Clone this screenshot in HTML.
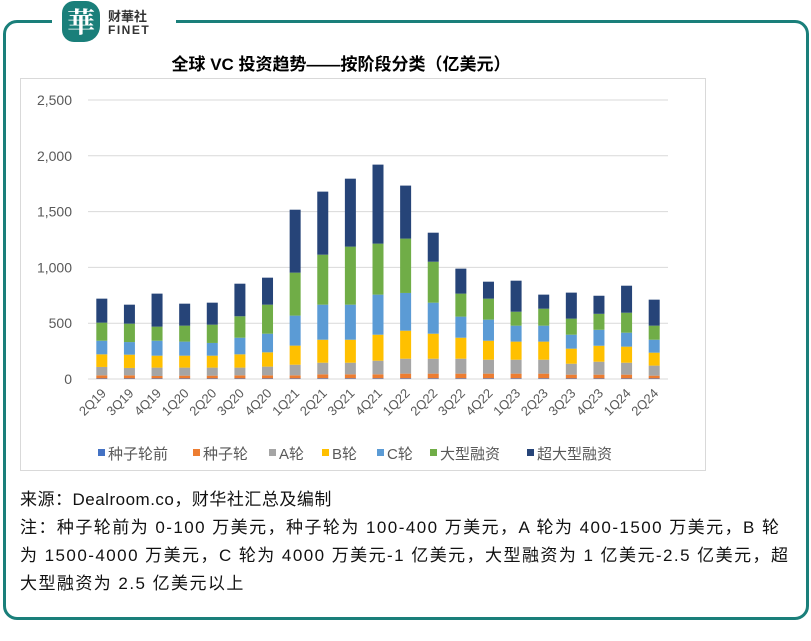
<!DOCTYPE html>
<html><head><meta charset="utf-8">
<style>
body{margin:0;width:811px;height:641px;background:#fff;position:relative;overflow:hidden;font-family:"Liberation Sans","Noto Sans CJK SC",sans-serif;}
.abs{position:absolute;}
.note{left:20px;font-size:17px;color:#111;white-space:nowrap;letter-spacing:1.45px;}
</style></head><body>
<div class="abs" style="left:3px;top:20px;width:800px;height:594px;border:3px solid #1a7f7a;border-radius:14px;"></div>
<div class="abs" style="left:52px;top:14px;width:124px;height:14px;background:#fff;"></div>
<div class="abs" style="left:62px;top:1px;width:38px;height:41px;background:#1a7f7a;border-radius:12px 14px 16px 12px;color:#fff;font-size:28px;font-family:'Noto Serif CJK SC',serif;text-align:center;line-height:40px;font-weight:bold;">華</div>
<div class="abs" style="left:108px;top:10px;font-size:13px;font-weight:bold;color:#333;line-height:13px;">财華社<br><span style="font-size:12px;letter-spacing:1.5px;">FINET</span></div>
<div class="abs" style="left:0;width:682px;top:50px;text-align:center;font-size:17px;font-weight:bold;color:#000;">全球 VC 投资趋势——按阶段分类（亿美元）</div>
<div class="abs" style="left:20px;top:78px;width:684px;height:391px;border:1px solid #d9d9d9;"></div>
<svg class="abs" style="left:0;top:0" width="811" height="641" id="chart"></svg>
<div class="abs note" style="top:485px;letter-spacing:0.5px;">来源：Dealroom.co，财华社汇总及编制</div>
<div class="abs note" style="top:513px;">注：种子轮前为 0-100 万美元，种子轮为 100-400 万美元，A 轮为 400-1500 万美元，B 轮</div>
<div class="abs note" style="top:541px;">为 1500-4000 万美元，C 轮为 4000 万美元-1 亿美元，大型融资为 1 亿美元-2.5 亿美元，超</div>
<div class="abs note" style="top:569px;">大型融资为 2.5 亿美元以上</div>
<script>
const categories=["2Q19","3Q19","4Q19","1Q20","2Q20","3Q20","4Q20","1Q21","2Q21","3Q21","4Q21","1Q22","2Q22","3Q22","4Q22","1Q23","2Q23","3Q23","4Q23","1Q24","2Q24"];
const seriesNames=["种子轮前","种子轮","A轮","B轮","C轮","大型融资","超大型融资"];
const preSeed=[5,5,5,5,5,5,5,5,6,6,6,6,6,6,6,6,6,5,5,5,5];
const seed=[28,28,22,25,25,28,28,28,36,36,36,42,42,42,42,42,42,34,34,34,25];
const roundA=[75,66,75,72,72,69,78,95,104,104,122,134,134,134,125,125,125,98,116,107,90];
const roundB=[113,119,107,107,107,119,128,171,206,206,233,251,224,188,170,162,162,135,143,144,116];
const roundC=[122,113,134,126,114,149,167,269,314,314,359,338,278,189,189,143,143,125,143,125,116];
const large=[162,165,126,143,164,192,260,385,448,520,457,487,367,206,188,125,152,144,143,179,126];
const mega=[215,170,296,197,197,292,242,564,565,609,708,475,260,224,152,278,126,233,162,242,233];
const series=[preSeed,seed,roundA,roundB,roundC,large,mega];
const colors=["#4472c4","#ed7d31","#a5a5a5","#ffc000","#5b9bd5","#70ad47","#264478"];
const yTicks=[0,500,1000,1500,2000,2500];
const yTickLabels=["0","500","1,000","1,500","2,000","2,500"];
const NS="http://www.w3.org/2000/svg";
const svg=document.getElementById("chart");
const L=88,R=668,Y0=379,Ytop=100,YMAX=2500;
const y=v=>Y0-(v/YMAX)*(Y0-Ytop);
const step=(R-L)/categories.length;
const xc=i=>L+step*(i+0.5);
function mk(t,a){const e=document.createElementNS(NS,t);for(const k in a)e.setAttribute(k,a[k]);svg.appendChild(e);return e;}
yTicks.forEach((v,i)=>{
  const g=mk("line",{x1:L,x2:R,y1:y(v),y2:y(v),stroke:"#d9d9d9","stroke-width":1});
  
  
  const t=mk("text",{x:72,y:y(v)+5,"text-anchor":"end","font-size":14,fill:"#595959","font-family":"Liberation Sans, sans-serif"});
  t.textContent=yTickLabels[i];
  
  
});
categories.forEach((c,i)=>{
  let acc=0;
  series.forEach((s,k)=>{
    const v=s[i];
    const r=mk("rect",{x:xc(i)-5.5,width:11,y:y(acc+v),height:y(acc)-y(acc+v),fill:colors[k]});
    
    
    acc+=v;
  });
  const t=mk("text",{x:0,y:0,"text-anchor":"end","font-size":13,fill:"#595959","font-family":"Liberation Sans, sans-serif",transform:`translate(${xc(i)+5},${Y0+15}) rotate(-45)`});
  t.textContent=c;
  
  
});
const legX=[98,193,269,322,377,430,527];
seriesNames.forEach((n,k)=>{
  const r=mk("rect",{x:legX[k],y:449,width:7,height:7,fill:colors[k]});
  
  
  const t=mk("text",{x:legX[k]+10,y:459,"font-size":15,fill:"#595959","font-family":"Liberation Sans, Noto Sans CJK SC, sans-serif"});
  t.textContent=n;
  
  
});
</script>
</body></html>
